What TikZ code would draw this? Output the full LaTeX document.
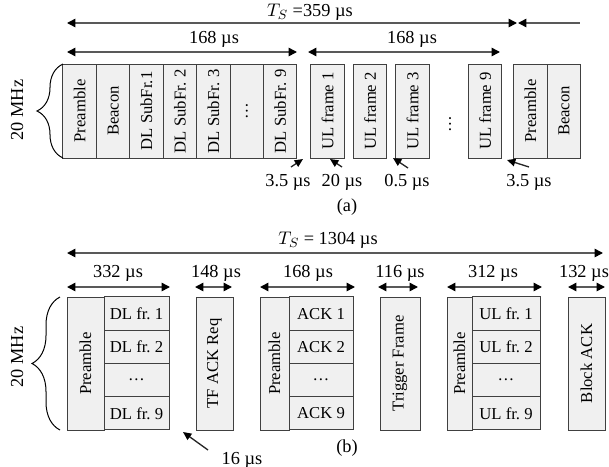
\documentclass[tikz,border=0pt]{standalone}
\usepackage{fontspec}
\setmainfont{Liberation Serif}
\usetikzlibrary{arrows.meta,decorations.pathreplacing}

\tikzset{
  cell/.style 2 args={draw=black!75, fill=black!6, line width=0.6pt, inner sep=0pt,
    font=\fontsize{10}{12}\selectfont, minimum width={#1*0.6pt}, minimum height={#2*0.6pt}},
  vtext/.style={rotate=90, inner sep=0pt, font=\fontsize{10}{12}\selectfont},
  dim/.style={draw=black!65, line width=0.9pt,
    {Triangle[length=5pt,width=5pt,color=black]}-{Triangle[length=5pt,width=5pt,color=black]}},
  ptr/.style={draw=black!85, line width=0.8pt, -{Triangle[length=5pt,width=4.5pt,color=black]}},
  bw/.style={decorate, draw=black, line width=0.6pt},
}

\begin{document}
\begin{tikzpicture}[x=0.6pt, y=-0.6pt, font=\fontsize{11}{13}\selectfont]
  \useasboundingbox (0,0) rectangle (609,466);

  % (a) superframe
  \draw[dim] (67,23) -- (517,23);
  \draw[draw=black!65, line width=0.9pt, {Triangle[length=5pt,width=5pt,color=black]}-] (518,23) -- (580,23);
  \node (tsa) at (310,12) {$T_S$ =359 µs};
  \draw[dim] (67,52) -- (297,52);
  \node (dura) at (214,39) {168 µs};
  \draw[dim] (308,52) -- (500,52);
  \node (durb) at (412,39) {168 µs};

  \foreach \t [count=\i from 0] in {Preamble,Beacon,DL SubFr.1,DL SubFr. 2,DL SubFr. 3,…,DL SubFr. 9} {
    \node[cell={33.43}{94}] (dl\i) at ({79.7+33.43*\i},111) {};
    \node[vtext] at (dl\i) {\t};
  }
  \foreach \t/\x [count=\i] in {UL frame 1/327.5,UL frame 2/370,UL frame 3/412.5,UL frame 9/485} {
    \node[cell={33.5}{94}] (ul\i) at (\x,111) {};
    \node[vtext] at (ul\i) {\t};
  }
  \node[vtext] (uldots) at (450,124) {…};
  \node[cell={33.5}{94}] (prea) at (530.5,111) {};
  \node[vtext] at (prea) {Preamble};
  \node[cell={33.5}{94}] (beaa) at (564,111) {};
  \node[vtext] at (beaa) {Beacon};

  \draw[bw, decoration={brace, amplitude=15.6pt}] (63,158) -- (63,64);
  \node[rotate=90] (bwa) at (17,110) {20 MHz};

  % Intervalos de guarda
  \foreach \n/\tx/\ty/\hx/\hy/\lx/\t in {1/291/167/303/159/288/3.5,2/342/167/330/159/342/20,
      3/408/168/393/158/407/0.5,4/529/167/507/160/529/3.5} {
    \coordinate (gap\n) at (\hx,\hy);
    \node (gaplbl\n) at (\lx,182) {\t\ µs};
    \draw[ptr] (\tx,\ty) -- (gap\n);
  }
  \node (capa) at (347,207) {(a)};

  % (b) sequencia com Trigger Frame
  \draw[dim] (67,253) -- (603,253);
  \node (tsb) at (328,240) {$T_S$ = 1304 µs};
  \foreach \a/\b/\c/\t [count=\i] in {67/170/118/332,195/232/216/148,260/355/308/168,
      378/418/400/116,447/542/493/312,568/605/584/132} {
    \draw[dim] (\a,287) -- (\b,287);
    \node (durb\i) at (\c,273) {\t\ µs};
  }

  \foreach \n/\px/\pw/\rx/\rw/\r in {dl/85.5/37/136.5/65/DL fr.,ack/274.5/29/321/64/ACK,ul/459.5/25/506/68/UL fr.} {
    \node[cell={\pw}{133}] (\n pre) at (\px,363.5) {};
    \node[vtext] at (\n pre) {Preamble};
    \foreach \s [count=\j from 0] in {\r\ 1,\r\ 2,…,\r\ 9} {
      \node[cell={\rw}{33.25}] (\n\j) at (\rx,{313.6+33.25*\j}) {\s};
    }
  }
  \foreach \n/\x/\w/\t in {tfack/214.5/37/TF ACK Req,trig/400/40/Trigger Frame,back/586.5/37/Block ACK} {
    \node[cell={\w}{133}] (\n) at (\x,363.5) {};
    \node[vtext] at (\n) {\t};
  }

  \draw[bw, decoration={brace, amplitude=16.8pt}] (60,430) -- (60,297);
  \node[rotate=90] (bwb) at (17,357) {20 MHz};

  \coordinate (sifs) at (183,432);
  \node (sifslbl) at (242,460) {16 µs};
  \draw[ptr] (208,450) -- (sifs);
  \node (capb) at (347,448) {(b)};
\end{tikzpicture}
\end{document}
